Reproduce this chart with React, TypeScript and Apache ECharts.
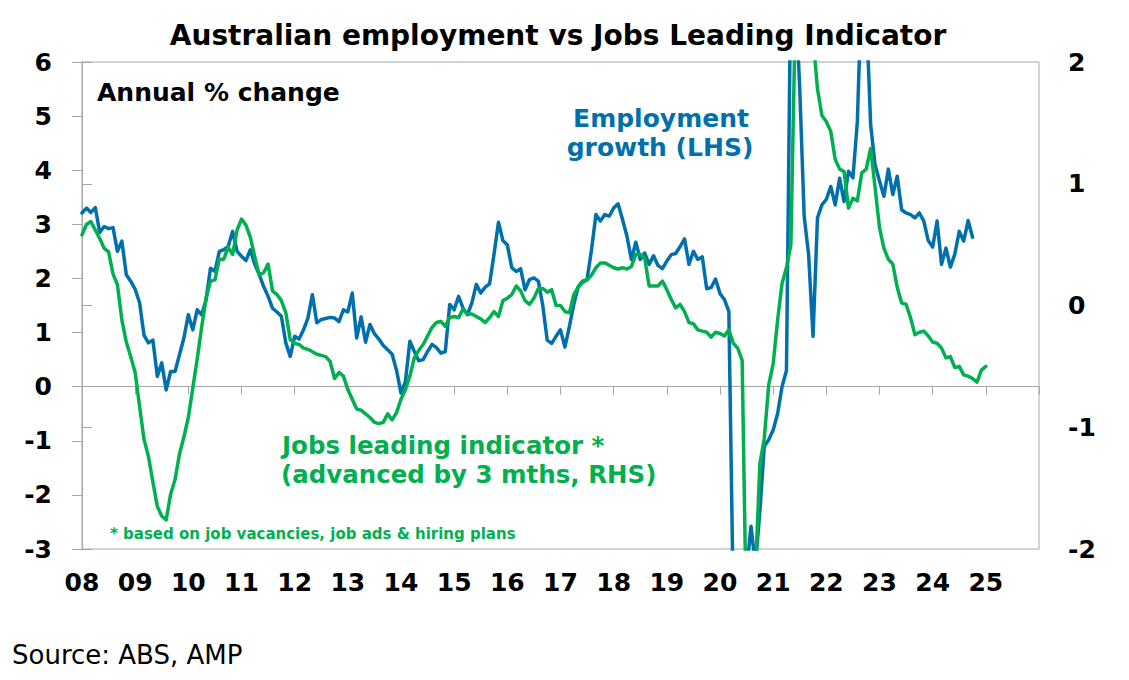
import React, { useEffect, useRef } from "react";
import * as echarts from "echarts";

// Tick labels (years, 2-digit), one every 12 months from Jan 2008
const yearLabels = ["08", "09", "10", "11", "12", "13", "14", "15", "16", "17", "18", "19", "20", "21", "22", "23", "24", "25"];

// Employment growth, annual % change, monthly from Jan 2008 (LHS)
const employmentGrowth = [
  3.21, 3.30, 3.22, 3.31, 2.85, 2.96, 2.92, 2.94, 2.50, 2.69, 2.07, 1.95,
  1.80, 1.55, 0.95, 0.81, 0.86, 0.19, 0.44, -0.06, 0.28, 0.28, 0.59, 0.90,
  1.33, 1.05, 1.42, 1.33, 1.60, 2.19, 2.13, 2.50, 2.53, 2.59, 2.87, 2.50,
  2.41, 2.33, 2.53, 2.26, 2.07, 1.85, 1.67, 1.45, 1.38, 1.30, 0.81, 0.56,
  0.93, 0.88, 1.05, 1.27, 1.70, 1.18, 1.24, 1.26, 1.28, 1.27, 1.20, 1.42,
  1.38, 1.73, 0.90, 1.29, 0.82, 1.15, 0.98, 0.88, 0.76, 0.68, 0.60, 0.30,
  -0.12, 0.10, 0.84, 0.65, 0.48, 0.50, 0.65, 0.78, 0.72, 0.62, 0.65, 1.52,
  1.42, 1.67, 1.45, 1.33, 1.55, 1.89, 1.73, 1.84, 1.90, 2.45, 3.04, 2.70,
  2.62, 2.20, 2.13, 2.18, 1.79, 1.98, 2.01, 1.95, 1.50, 0.86, 0.80, 0.93,
  1.05, 0.73, 1.11, 1.52, 1.85, 1.95, 1.98, 2.53, 3.18, 3.06, 3.18, 3.15,
  3.30, 3.38, 3.09, 2.78, 2.35, 2.67, 2.35, 2.47, 2.26, 2.42, 2.24, 2.18,
  2.32, 2.44, 2.46, 2.59, 2.73, 2.26, 2.50, 2.35, 2.40, 1.81, 1.83, 1.99,
  1.72, 1.61, 1.39, -4.00, -4.50, -4.20, -3.40, -2.58, -3.30, -2.30, -1.10, -0.98,
  -0.80, -0.50, 0.00, 0.30, 7.80, 7.30, 5.50, 3.15, 2.44, 0.93, 3.12, 3.36,
  3.46, 3.70, 3.36, 3.85, 3.42, 3.98, 3.86, 4.90, 7.50, 7.00, 4.84, 4.10,
  3.80, 3.52, 4.02, 3.55, 3.89, 3.27, 3.21, 3.18, 3.12, 3.21, 3.06, 2.70,
  2.58, 3.06, 2.26, 2.56, 2.21, 2.45, 2.87, 2.69, 3.07, 2.76,
];

// Jobs leading indicator (advanced by 3 months), monthly from Jan 2008 (RHS)
const jobsLeadingIndicator = [
  0.58, 0.665, 0.69, 0.62, 0.55, 0.47, 0.44, 0.26, 0.17, -0.12, -0.30, -0.42,
  -0.55, -0.83, -1.10, -1.24, -1.45, -1.65, -1.73, -1.76, -1.55, -1.43, -1.22, -1.08,
  -0.92, -0.68, -0.44, -0.18, 0.06, 0.20, 0.21, 0.38, 0.38, 0.48, 0.42, 0.62,
  0.71, 0.66, 0.56, 0.40, 0.25, 0.27, 0.34, 0.12, 0.09, 0.04, -0.06, -0.28,
  -0.31, -0.32, -0.35, -0.36, -0.38, -0.40, -0.41, -0.42, -0.46, -0.60, -0.55, -0.58,
  -0.69, -0.77, -0.85, -0.86, -0.89, -0.92, -0.96, -0.97, -0.96, -0.89, -0.94, -0.88,
  -0.77, -0.69, -0.58, -0.43, -0.37, -0.32, -0.25, -0.18, -0.14, -0.13, -0.17, -0.10,
  -0.09, -0.10, -0.03, -0.07, -0.07, -0.09, -0.11, -0.14, -0.10, -0.05, -0.09, 0.04,
  0.06, 0.09, 0.16, 0.12, 0.04, 0.01, 0.06, 0.14, 0.14, 0.11, 0.13, 0.00,
  0.00, -0.05, -0.06, 0.09, 0.15, 0.19, 0.21, 0.25, 0.31, 0.35, 0.35, 0.33,
  0.31, 0.30, 0.31, 0.30, 0.32, 0.42, 0.42, 0.39, 0.16, 0.16, 0.16, 0.20,
  0.13, 0.05, -0.02, 0.01, -0.05, -0.14, -0.15, -0.20, -0.21, -0.22, -0.26, -0.22,
  -0.23, -0.25, -0.20, -0.31, -0.35, -0.45, -2.70, -2.60, -2.20, -1.30, -1.09, -0.65,
  -0.48, -0.12, 0.18, 0.31, 0.50, 2.40, 2.90, 3.00, 2.70, 2.20, 1.78, 1.56,
  1.51, 1.43, 1.20, 1.12, 1.10, 0.80, 0.88, 0.86, 1.09, 1.12, 1.29, 0.97,
  0.64, 0.47, 0.38, 0.34, 0.15, 0.02, 0.01, -0.10, -0.24, -0.22, -0.21, -0.25,
  -0.30, -0.31, -0.35, -0.43, -0.42, -0.51, -0.50, -0.57, -0.58, -0.60, -0.63, -0.53,
  -0.50,
];

const BLUE = "#0070AC";
const GREEN = "#00B04F";
const GREY = "#A6A6A6";
const FONT = '"DejaVu Sans", sans-serif';

export default function App() {
  const ref = useRef<HTMLDivElement>(null);

  useEffect(() => {
    document.body.style.margin = "0";
    const chart = echarts.init(ref.current as HTMLDivElement, null, { renderer: "svg" });
    const monthsTotal = yearLabels.length * 12 + 12 - 12; // Jan 2008 .. Jan 2026
    const xMax = (yearLabels.length + 1) * 12 - 12;

    const labelStyle = {
      color: "#000",
      fontFamily: FONT,
      fontWeight: "bold" as const,
      fontSize: 25,
    };

    const textEl = (text: string, x: number, y: number, size: number, fill: string, align: string, weight = "bold") => ({
      type: "text",
      x,
      y,
      z: 10,
      style: {
        text,
        fill,
        font: `${weight} ${size}px ${FONT}`,
        textAlign: align,
        textVerticalAlign: "middle",
        align,
        verticalAlign: "middle",
      },
    });

    const option = {
      animation: false,
      backgroundColor: "#fff",
      grid: {
        left: 82,
        right: 90,
        top: 62,
        bottom: 131,
        show: true,
        borderColor: GREY,
        borderWidth: 1,
        containLabel: false,
      },
      xAxis: [
        {
          type: "value",
          position: "bottom",
          min: 0,
          max: xMax,
          interval: 12,
          axisLine: { show: false, onZero: false },
          axisTick: { show: false },
          splitLine: { show: false },
          axisLabel: {
            ...labelStyle,
            margin: 21,
            formatter: (v: number) => {
              const i = Math.round(v / 12);
              return i < yearLabels.length ? yearLabels[i] : "";
            },
          },
        },
        {
          type: "value",
          position: "bottom",
          min: 0,
          max: xMax,
          interval: 12,
          axisLine: { show: true, onZero: true, onZeroAxisIndex: 0, lineStyle: { color: GREY, width: 1 } },
          axisTick: { show: true, inside: false, length: 8, lineStyle: { color: GREY, width: 1 } },
          splitLine: { show: false },
          axisLabel: { show: false },
        },
      ],
      yAxis: [
        {
          type: "value",
          position: "left",
          min: -3,
          max: 6,
          interval: 1,
          axisLine: { show: true, lineStyle: { color: GREY, width: 1 } },
          axisTick: { show: true, inside: false, length: 10, lineStyle: { color: GREY, width: 1 } },
          splitLine: { show: false },
          axisLabel: { ...labelStyle, margin: 30 },
        },
        {
          type: "value",
          position: "right",
          min: -2,
          max: 2,
          interval: 1,
          axisLine: { show: true, lineStyle: { color: GREY, width: 1 } },
          axisTick: { show: true, inside: false, length: 10, lineStyle: { color: GREY, width: 1 } },
          splitLine: { show: false },
          axisLabel: { ...labelStyle, margin: 29 },
        },
      ],
      series: [
        {
          name: "Employment growth (LHS)",
          type: "line",
          xAxisIndex: 0,
          yAxisIndex: 0,
          showSymbol: false,
          clip: true,
          data: employmentGrowth.map((v, i) => [i, v]),
          lineStyle: { color: BLUE, width: 3.5, join: "round", cap: "round" },
          itemStyle: { color: BLUE },
          z: 2,
        },
        {
          name: "Jobs leading indicator (RHS)",
          type: "line",
          xAxisIndex: 0,
          yAxisIndex: 1,
          showSymbol: false,
          clip: true,
          data: jobsLeadingIndicator.map((v, i) => [i, v]),
          lineStyle: { color: GREEN, width: 3.5, join: "round", cap: "round" },
          itemStyle: { color: GREEN },
          z: 3,
        },
      ],
      graphic: [
        textEl("Australian employment vs Jobs Leading Indicator", 558, 35, 28, "#000", "center"),
        textEl("Annual % change", 97, 92.5, 25, "#000", "left"),
        textEl("Employment", 661, 118, 25, BLUE, "center"),
        textEl("growth (LHS)", 660, 147, 25, BLUE, "center"),
        textEl("Jobs leading indicator *", 282, 445, 24.5, GREEN, "left"),
        textEl("(advanced by 3 mths, RHS)", 281, 474, 24.5, GREEN, "left"),
        textEl("* based on job vacancies, job ads & hiring plans", 110, 534, 15, GREEN, "left"),
        textEl("Source: ABS, AMP", 12, 655, 26, "#000", "left", "normal"),
      ],
    };
    void monthsTotal;
    chart.setOption(option as any);
    return () => chart.dispose();
  }, []);

  return <div ref={ref} style={{ width: 1129, height: 680 }} />;
}
